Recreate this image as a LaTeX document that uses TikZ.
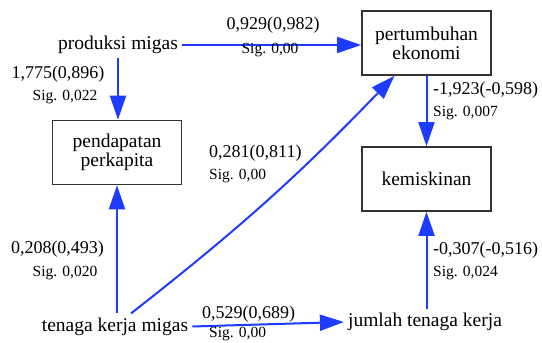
\documentclass[tikz,border=0pt]{standalone}
\usepackage{fontspec}
\setmainfont{Liberation Serif}
\usetikzlibrary{arrows.meta,positioning}
\definecolor{pathblue}{RGB}{30,60,255}
\definecolor{boxgray}{RGB}{50,50,50}
\newcommand{\varsize}{\fontsize{19.5}{23}\selectfont}
\newcommand{\coefsize}{\fontsize{18}{21}\selectfont}
\newcommand{\sigsize}{\fontsize{15.5}{18}\selectfont}
\begin{document}
\begin{tikzpicture}[
        x=1pt, y=-1pt,
        every node/.style={inner sep=4pt},
        varbox/.style={rectangle, draw=boxgray, line width=1.6pt, align=center, minimum width=129pt, minimum height=64pt},
        coef/.style={inner sep=0pt},
        arrow/.style={pathblue, line width=2pt, -{Triangle[length=24pt, width=16pt]}}
    ]
        \useasboundingbox (0,0) rectangle (542,343);

        \node (prod) at (118,45) {\varsize produksi migas};
        \node[varbox] (pert) at (426.5,43) {\varsize pertumbuhan\\\varsize ekonomi};
        \node[varbox] (pend) at (117,152.5) {\varsize pendapatan\\\varsize perkapita};
        \node[varbox] (kem) at (426.5,179) {\varsize kemiskinan};
        \node (tkm) at (115,326.5) {\varsize tenaga kerja migas};
        \node (jtk) at (425,322) {\varsize jumlah tenaga kerja};

        \draw[arrow] (prod.east) -- (prod.east -| pert.west);
        \draw[arrow] (prod.south) -- (prod.south |- pend.north);
        \draw[arrow] (pert.south) -- (kem.north);
        \draw[arrow] (jtk.north -| kem.south) -- (kem.south);
        \draw[arrow] (tkm.north -| pend.south) -- (pend.south);
        \draw[arrow] ([xshift=16pt]tkm.north) to[bend right=4] ([xshift=-32pt]pert.south);
        \draw[arrow] (tkm.east) -- (jtk.west);

        \node[coef] (c1) at (273,25) {\coefsize 0,929(0,982)};
        \node[coef] (s1) at (270,50) {\sigsize Sig. 0,00};
        \node[coef] (c2) at (58,74) {\coefsize 1,775(0,896)};
        \node[coef] (s2) at (65,97) {\sigsize Sig. 0,022};
        \node[coef, anchor=west] (c3) at (433,90) {\coefsize -1,923(-0,598)};
        \node[coef, anchor=west] (s3) at (433,113) {\sigsize Sig. 0,007};
        \node[coef, anchor=west] (c4) at (433,250) {\coefsize -0,307(-0,516)};
        \node[coef, anchor=west] (s4) at (433,273) {\sigsize Sig. 0,024};
        \node[coef] (c5) at (57.5,249) {\coefsize 0,208(0,493)};
        \node[coef] (s5) at (65,273) {\sigsize Sig. 0,020};
        \node[coef, anchor=west] (c6) at (209,153) {\coefsize 0,281(0,811)};
        \node[coef, anchor=west] (s6) at (209,176) {\sigsize Sig. 0,00};
        \node[coef, anchor=west] (c7) at (202,314) {\coefsize 0,529(0,689)};
        \node[coef, anchor=west] (s7) at (209,334.5) {\sigsize Sig. 0,00};
    \end{tikzpicture}
\end{document}
